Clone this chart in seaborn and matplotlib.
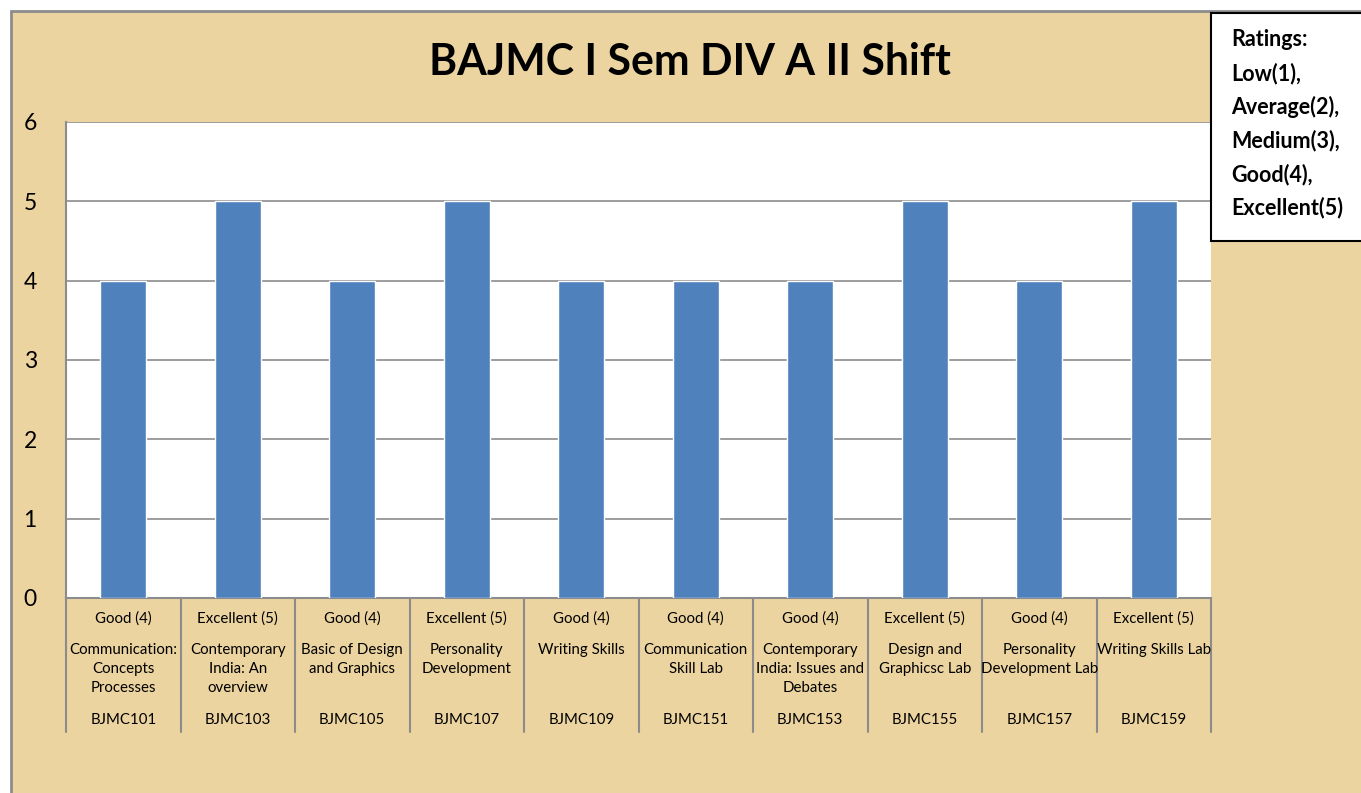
import numpy as np
import pandas as pd
import matplotlib.pyplot as plt
import matplotlib.transforms as mtransforms
from matplotlib.patches import Rectangle
import seaborn as sns

# course data
codes = ['BJMC101', 'BJMC103', 'BJMC105', 'BJMC107', 'BJMC109',
         'BJMC151', 'BJMC153', 'BJMC155', 'BJMC157', 'BJMC159']
subjects = ['Communication:\nConcepts\nProcesses', 'Contemporary\nIndia: An\noverview',
            'Basic of Design\nand Graphics', 'Personality\nDevelopment', 'Writing Skills',
            'Communication\nSkill Lab', 'Contemporary\nIndia: Issues and\nDebates',
            'Design and\nGraphicsc Lab', 'Personality\nDevelopment Lab', 'Writing Skills Lab']
ratings = ['Good (4)', 'Excellent (5)', 'Good (4)', 'Excellent (5)', 'Good (4)',
           'Good (4)', 'Good (4)', 'Excellent (5)', 'Good (4)', 'Excellent (5)']
scores = [4, 5, 4, 5, 4, 4, 4, 5, 4, 5]
legend_lines = ['Ratings:', 'Low(1),', 'Average(2),', 'Medium(3),', 'Good(4),', 'Excellent(5)']

sns.set_style('white')
plt.rcParams['font.family'] = ['Lato', 'DejaVu Sans']
plt.rcParams['text.color'] = 'black'
plt.rcParams['ytick.labelcolor'] = 'black'

W, H = 1361, 793
fig = plt.figure(figsize=(W / 100, H / 100), dpi=100)
fig.patch.set_facecolor('white')

# parchment background
bg = Rectangle((11 / W, -0.1), 1.2, 1 - 11 / H + 0.1, transform=fig.transFigure,
               facecolor='#EBD4A0', edgecolor='#8C8C8C', linewidth=2, zorder=-10)
fig.patches.append(bg)

ax = fig.add_axes([66 / W, 1 - 598 / H, (1211 - 66) / W, (598 - 122) / H])
ax.set_facecolor('white')

df = pd.DataFrame({'code': codes, 'score': scores})
sns.barplot(data=df, x='code', y='score', color='#4F81BD', saturation=1,
            width=0.4, ax=ax, zorder=3)

ax.set_ylim(0, 6)
ax.set_xlim(-0.5, len(codes) - 0.5)
ax.set_yticks(range(0, 7))
ax.yaxis.grid(True, color='#8C8C8C', linewidth=1.2, zorder=0)
ax.set_axisbelow(True)
for s in ['top', 'right']:
    ax.spines[s].set_visible(False)
for s in ['left', 'bottom']:
    ax.spines[s].set_color('#8C8C8C')
    ax.spines[s].set_linewidth(1.5)
ax.tick_params(axis='y', length=8, width=1.2, color='#8C8C8C', labelsize=16.5, pad=13,
               labelcolor='black')
ax.set_xticks([])
ax.set_xlabel('')
ax.set_ylabel('')

# multi-level category labels
trans = mtransforms.blended_transform_factory(ax.transData, ax.transAxes)
px = 1 / (598 - 122)
for i in range(len(codes)):
    ax.text(i, -(619 - 598) * px, ratings[i], transform=trans, ha='center', va='center',
            fontsize=10.8)
    for j, part in enumerate(subjects[i].split('\n')):
        ax.text(i, -(650 + 19 * j - 598) * px, part, transform=trans, ha='center',
                va='center', fontsize=10.8)
    ax.text(i, -(720 - 598) * px, codes[i], transform=trans, ha='center', va='center',
            fontsize=10.8)
for b in np.arange(-0.5, len(codes), 1.0):
    ax.plot([b, b], [0, -(732 - 598) * px], transform=trans, color='#8C8C8C',
            linewidth=1.5, clip_on=False)

# title
fig.text(690 / W, 1 - 62 / H, 'BAJMC I Sem DIV A II Shift', ha='center', va='center',
         fontsize=30.8, fontweight='bold')

# ratings box
box = Rectangle((1211 / W, 1 - 241 / H), 0.2, (241 - 13) / H, transform=fig.transFigure,
                facecolor='white', edgecolor='black', linewidth=1.5, zorder=5)
fig.patches.append(box)
for k, line in enumerate(legend_lines):
    fig.text(1231 / W, 1 - (40 + 33.6 * k) / H, line, ha='left', va='center',
             fontsize=15.5, fontweight='bold', zorder=6)

fig.savefig('out.png', dpi=100)
